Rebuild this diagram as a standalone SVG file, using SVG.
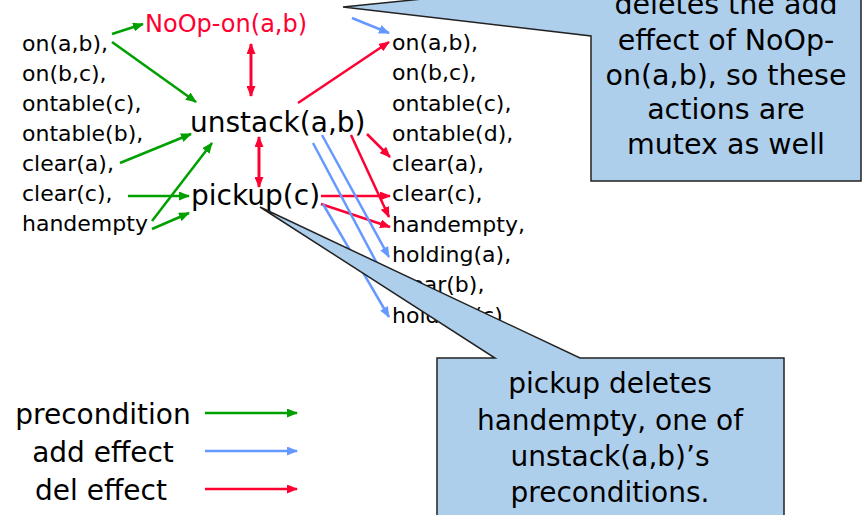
<svg xmlns="http://www.w3.org/2000/svg" width="865" height="515" viewBox="0 0 865 515">
<style>
text{font-family:"DejaVu Sans","Liberation Sans",sans-serif;fill:#000}
.fact{font-size:22px}
.act{font-size:28px}
.noop{font-size:24px;fill:#ff0033}
.call{font-size:28.5px;text-anchor:middle}
.call2{font-size:28px;text-anchor:middle}
.leg{font-size:28px;text-anchor:middle}
.pre{stroke:#00a000;stroke-width:2.5;fill:none;marker-end:url(#ag)}
.add{stroke:#6699ff;stroke-width:2.5;fill:none;marker-end:url(#ab)}
.del{stroke:#ff0033;stroke-width:2.5;fill:none;marker-end:url(#ar)}
.mux{stroke:#ff0033;stroke-width:3;fill:none;marker-start:url(#ar);marker-end:url(#ar)}
.bubble{fill:#aecfec;stroke:#222;stroke-width:1.5}
</style>
<defs>
<marker id="ag" markerUnits="userSpaceOnUse" markerWidth="11" markerHeight="9" refX="10" refY="4.5" orient="auto-start-reverse"><path d="M0,0 L11,4.5 L0,9 z" fill="#00a000"/></marker>
<marker id="ab" markerUnits="userSpaceOnUse" markerWidth="11" markerHeight="9" refX="10" refY="4.5" orient="auto-start-reverse"><path d="M0,0 L11,4.5 L0,9 z" fill="#6699ff"/></marker>
<marker id="ar" markerUnits="userSpaceOnUse" markerWidth="11" markerHeight="9" refX="10" refY="4.5" orient="auto-start-reverse"><path d="M0,0 L11,4.5 L0,9 z" fill="#ff0033"/></marker>
</defs>
<rect width="865" height="515" fill="#fff"/>

<g id="state0">
<text class="fact" x="22" y="51">on(a,b),</text>
<text class="fact" x="22" y="81">on(b,c),</text>
<text class="fact" x="22" y="111">ontable(c),</text>
<text class="fact" x="22" y="141">ontable(b),</text>
<text class="fact" x="22" y="171">clear(a),</text>
<text class="fact" x="22" y="201">clear(c),</text>
<text class="fact" x="22" y="231">handempty</text>
</g>

<g id="noop-on-ab"><text class="noop" x="145" y="32">NoOp-on(a,b)</text></g>
<g id="unstack-ab"><text class="act" x="190" y="132">unstack(a,b)</text></g>
<g id="pickup-c"><text class="act" x="191" y="205">pickup(c)</text></g>

<g id="state1">
<text class="fact" x="392" y="50">on(a,b),</text>
<text class="fact" x="392" y="80">on(b,c),</text>
<text class="fact" x="392" y="111">ontable(c),</text>
<text class="fact" x="392" y="141">ontable(d),</text>
<text class="fact" x="392" y="171">clear(a),</text>
<text class="fact" x="392" y="201">clear(c),</text>
<text class="fact" x="392" y="232">handempty,</text>
<text class="fact" x="392" y="262">holding(a),</text>
<text class="fact" x="392" y="292">clear(b),</text>
<text class="fact" x="392" y="323">holding(c)</text>
</g>

<g id="connectors">
<path class="pre" d="M112,34 L143,24"/>
<path class="pre" d="M112,42 L196,102"/>
<path class="pre" d="M120,163 L191,134"/>
<path class="pre" d="M152,221 L212,143"/>
<path class="pre" d="M128,196 L189,196"/>
<path class="pre" d="M152,229 L189,213"/>
<path class="mux" d="M251,44 L251,96"/>
<path class="mux" d="M259,137 L259,187"/>
<path class="del" d="M298,103 L389,42"/>
<path class="del" d="M367,134 L390,157"/>
<path class="del" d="M351,135 L389,217"/>
<path class="del" d="M321,196 L390,196"/>
<path class="del" d="M321,204 L390,227"/>
<path class="add" d="M352,18 L389,33"/>
<path class="add" d="M322,135 L389,257"/>
<path class="add" d="M313,143 L389,286"/>
<path class="add" d="M323,204 L389,317"/>
</g>

<g id="callout-noop">
<path class="bubble" d="M591,-60 L861,-60 L861,181 L591,181 L591,36 L343,7 L591,-18 Z"/>
<text class="call" x="726" y="14">deletes the add</text>
<text class="call" x="726" y="50">effect of NoOp-</text>
<text class="call" x="726" y="85">on(a,b), so these</text>
<text class="call" x="726" y="119">actions are</text>
<text class="call" x="726" y="154">mutex as well</text>
</g>

<g id="callout-pickup">
<path class="bubble" d="M437,358 L495,358 L260,207 L580,358 L784,358 L784,530 L437,530 Z"/>
<text class="call2" x="610" y="393">pickup deletes</text>
<text class="call2" x="610" y="430">handempty, one of</text>
<text class="call2" x="610" y="466">unstack(a,b)’s</text>
<text class="call2" x="610" y="502">preconditions.</text>
</g>

<g id="legend">
<text class="leg" x="103" y="424">precondition</text>
<text class="leg" x="103" y="462">add effect</text>
<text class="leg" x="101" y="500">del effect</text>
<path class="pre" d="M205,413 L297,413"/>
<path class="add" d="M205,451 L297,451"/>
<path class="del" d="M205,489 L297,489"/>
</g>
</svg>
